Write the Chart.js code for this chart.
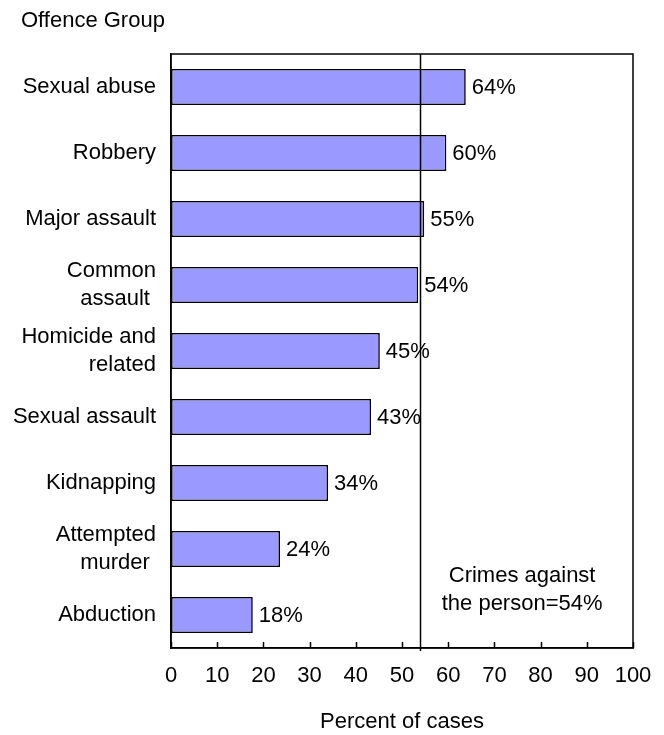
<!DOCTYPE html>
<html>
<head>
<meta charset="utf-8">
<script src="https://cdn.jsdelivr.net/npm/chart.js@4.4.1/dist/chart.umd.min.js"></script>
<style>
  html, body { margin: 0; padding: 0; background: #ffffff; }
  #wrap { width: 664px; height: 735px; position: relative; }
</style>
</head>
<body>
<div id="wrap"><canvas id="c" width="664" height="735"></canvas></div>
<script>
// ---- data ----
const categories = [
  "Sexual abuse",
  "Robbery",
  "Major assault",
  ["Common", "assault "],
  ["Homicide and", "related"],
  "Sexual assault",
  "Kidnapping",
  ["Attempted", "murder "],
  "Abduction"
];
const percentValues = [63.8, 59.6, 54.8, 53.5, 45.2, 43.3, 34.0, 23.6, 17.7];
const valueLabels = ["64%", "60%", "55%", "54%", "45%", "43%", "34%", "24%", "18%"];
const referenceValue = 54;
const referenceText = ["Crimes against", "the person=54%"];
const xTicks = [0, 10, 20, 30, 40, 50, 60, 70, 80, 90, 100];
const yTitle = "Offence Group";
const xTitle = "Percent of cases";

const FONT = "'Liberation Sans', Arial, sans-serif";
const FS = 22;

const overlay = {
  id: 'overlay',
  afterDatasetsDraw(chart) {
    const ctx = chart.ctx;
    const xs = chart.scales.x, ys = chart.scales.y;
    const a = chart.chartArea;
    ctx.save();
    // value labels
    ctx.font = FS + "px " + FONT;
    ctx.fillStyle = "#000";
    ctx.textBaseline = "middle";
    ctx.textAlign = "left";
    percentValues.forEach((v, i) => {
      ctx.fillText(valueLabels[i], xs.getPixelForValue(v) + 6, ys.getPixelForValue(i) + 1);
    });
    // reference line
    const rx = Math.round(xs.getPixelForValue(referenceValue)) + 0.5;
    ctx.strokeStyle = "#000";
    ctx.lineWidth = 1.5;
    ctx.beginPath();
    ctx.moveTo(rx, a.top);
    ctx.lineTo(rx, a.bottom + 3);
    ctx.stroke();
    // frame
    ctx.strokeRect(a.left, a.top, a.right - a.left, a.bottom - a.top);
    // inner tick marks
    xTicks.forEach(t => {
      const px = Math.round(xs.getPixelForValue(t)) + 0.5;
      ctx.beginPath();
      ctx.moveTo(px, a.bottom);
      ctx.lineTo(px, a.bottom - 6);
      ctx.stroke();
    });
    // annotation
    ctx.textAlign = "center";
    const ax = xs.getPixelForValue(76);
    const lastY = ys.getPixelForValue(categories.length - 1);
    ctx.fillText(referenceText[0], ax, lastY - 39);
    ctx.fillText(referenceText[1], ax, lastY - 11);
    // y title
    ctx.textAlign = "left";
    ctx.fillText(yTitle, 21, 21);
    ctx.restore();
  }
};

new Chart(document.getElementById('c'), {
  type: 'bar',
  data: {
    labels: categories,
    datasets: [{
      data: percentValues,
      backgroundColor: '#9999FF',
      borderColor: '#000000',
      borderWidth: 1.6,
      borderSkipped: false,
      categoryPercentage: 1,
      barPercentage: 0.545
    }]
  },
  options: {
    indexAxis: 'y',
    responsive: false,
    animation: false,
    devicePixelRatio: 1,
    layout: { padding: { top: 54, right: 31, left: 0, bottom: 0 } },
    plugins: { legend: { display: false }, tooltip: { enabled: false }, title: { display: false } },
    scales: {
      x: {
        min: 0, max: 100,
        afterFit: s => { s.height = 87; s.paddingLeft = 0; s.paddingRight = 0; },
        afterBuildTicks: s => { s.ticks = xTicks.map(v => ({ value: v })); },
        grid: { display: false, drawTicks: false },
        border: { display: true, color: '#000', width: 1.5 },
        ticks: { color: '#000', font: { family: FONT, size: FS }, padding: 15, maxRotation: 0, autoSkip: false },
        title: { display: true, text: xTitle, color: '#000', font: { family: FONT, size: FS }, padding: { top: 0, bottom: 0 } }
      },
      y: {
        afterFit: s => { s.width = 171; },
        grid: { display: false, drawTicks: false },
        border: { display: true, color: '#000', width: 1.5 },
        ticks: { color: '#000', font: { family: FONT, size: FS, lineHeight: 1.24 }, padding: 15, autoSkip: false }
      }
    }
  },
  plugins: [overlay]
});
</script>
</body>
</html>
